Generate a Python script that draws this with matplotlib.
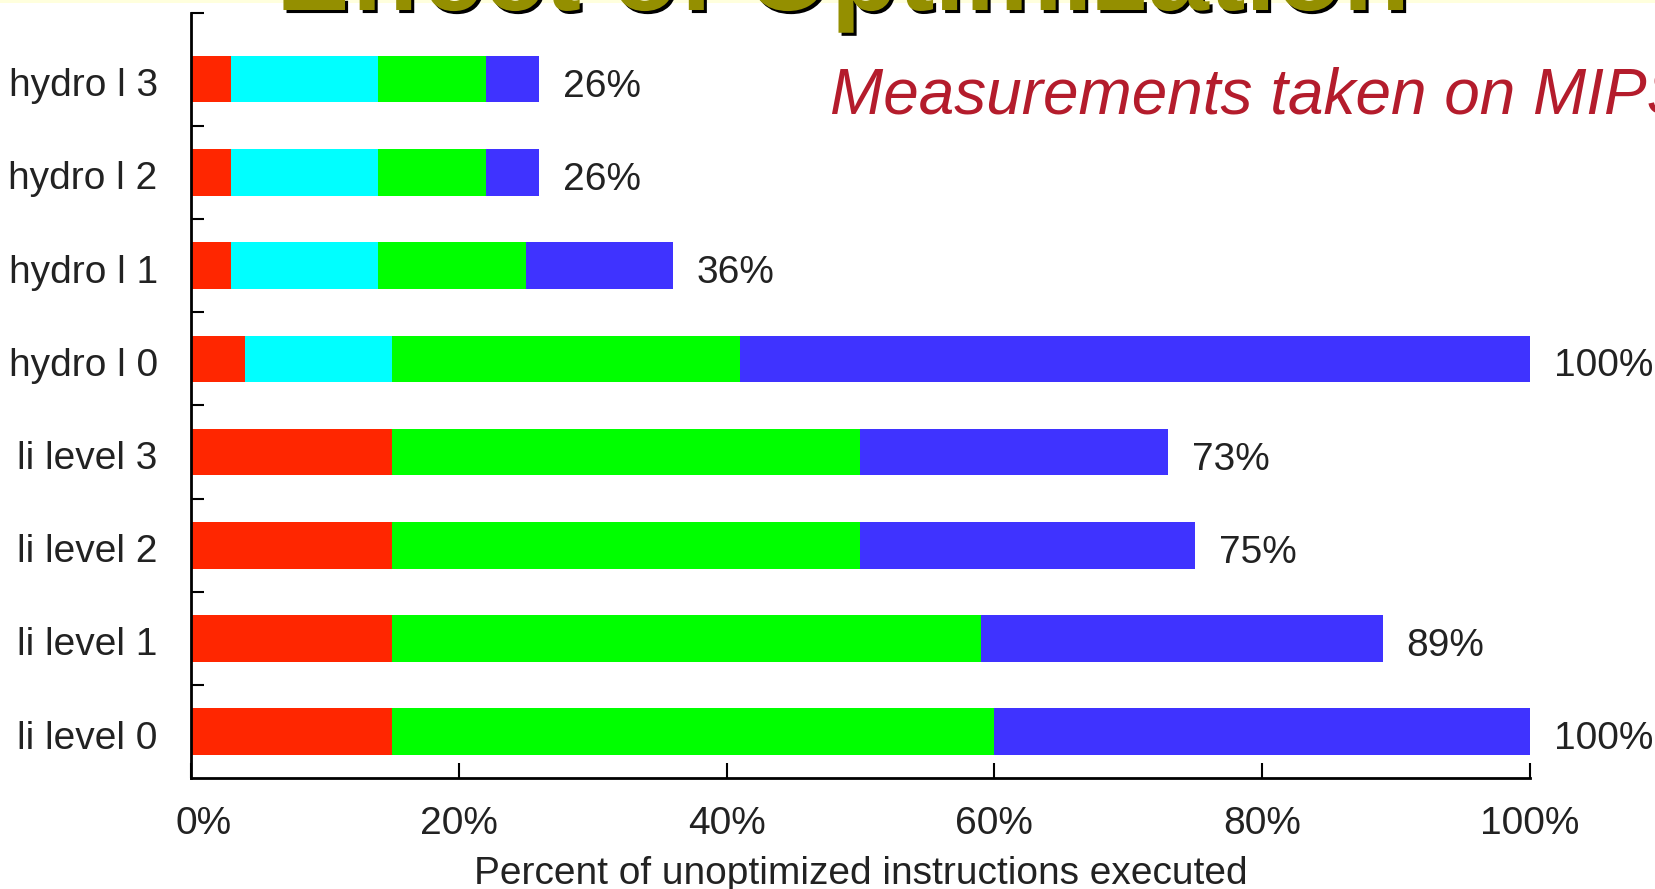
import matplotlib
matplotlib.use("Agg")
import matplotlib.pyplot as plt
import matplotlib.patheffects as pe
import matplotlib.transforms as mtransforms
from matplotlib.patches import Rectangle
import numpy as np

plt.rcParams['font.family'] = ['Liberation Sans', 'DejaVu Sans']

# ---- data (bottom to top) ----
categories = ["li level 0", "li level 1", "li level 2", "li level 3",
              "hydro l 0", "hydro l 1", "hydro l 2", "hydro l 3"]
seg_red   = [15, 15, 15, 15, 4, 3, 3, 3]
seg_cyan  = [0, 0, 0, 0, 11, 11, 11, 11]
seg_green = [45, 44, 35, 35, 26, 11, 8, 8]
seg_blue  = [40, 30, 25, 23, 59, 11, 4, 4]
totals    = [100, 89, 75, 73, 100, 36, 26, 26]
total_labels = ["100%", "89%", "75%", "73%", "100%", "36%", "26%", "26%"]
xtick_values = [0, 20, 40, 60, 80, 100]
xtick_labels = ["0%", "20%", "40%", "60%", "80%", "100%"]

series = [seg_red, seg_cyan, seg_green, seg_blue]
colors = ["#FF2600", "#00FFFF", "#00FF00", "#3F33FF"]

FS = 28
TXT = "#222222"

fig = plt.figure(figsize=(16.56, 8.89), dpi=100)
fig.patch.set_facecolor("white")

# pale top strip of slide
fig.patches.append(Rectangle((0, 1 - 3 / 889), 1, 3 / 889, transform=fig.transFigure,
                             facecolor="#FFFFDD", edgecolor="none", zorder=0))

ax = fig.add_axes([191 / 1656, 1 - 778.3 / 889, (1530 - 191) / 1656, (778.3 - 13) / 889])

y = np.arange(len(categories))
left = np.zeros(len(categories))
for vals, c in zip(series, colors):
    ax.barh(y, vals, left=left, height=0.5, color=c, edgecolor="none")
    left = left + np.array(vals)

for yi, tot, lab in zip(y, totals, total_labels):
    ax.annotate(lab, xy=(tot, yi), xytext=(17, -2.5), textcoords="offset points",
                va="center_baseline", ha="left", fontsize=FS, color=TXT)

ytop = 7.71
ax.set_xlim(0, 100)
ax.set_ylim(-0.5, ytop)

ax.set_yticks(y)
ax.set_yticklabels(categories, fontsize=FS, color=TXT, va="center_baseline")
ax.tick_params(axis="y", which="major", length=0, pad=24)
down = mtransforms.ScaledTranslation(0, -3 / 100, fig.dpi_scale_trans)
for t in ax.get_yticklabels():
    t.set_transform(t.get_transform() + down)
ax.set_yticks(list(np.arange(0.5, 7, 1.0)) + [ytop], minor=True)
ax.tick_params(axis="y", which="minor", direction="in", length=9.5, width=1.5)

ax.set_xticks(xtick_values)
ax.set_xticklabels(xtick_labels, fontsize=FS, color=TXT)
ax.tick_params(axis="x", direction="in", length=11, width=1.5, pad=20)
# first x label sits slightly right of its tick in the reference
lbl0 = ax.get_xticklabels()[0]
lbl0.set_transform(lbl0.get_transform() + mtransforms.ScaledTranslation(13 / 100, 0, fig.dpi_scale_trans))

ax.set_xlabel("Percent of unoptimized instructions executed", fontsize=FS,
              color=TXT, labelpad=10)

for s in ["top", "right"]:
    ax.spines[s].set_visible(False)
for s in ["left", "bottom"]:
    ax.spines[s].set_linewidth(2)
    ax.spines[s].set_color("black")

# slide title (cropped at top) with shadow
fig.text(843 / 1656, 1 - 10 / 889, "Effect of Optimization", ha="center", va="baseline",
         fontsize=79, fontweight="bold", color="#948F00",
         path_effects=[pe.SimplePatchShadow(offset=(2.2, -2.2), shadow_rgbFace="black", alpha=1.0),
                       pe.Normal()])

fig.text(830 / 1656, 1 - 113 / 889, "Measurements taken on MIPS", ha="left", va="baseline",
         fontsize=46, fontstyle="italic", color="#B41C2C")

fig.savefig("out.png", dpi=100)
